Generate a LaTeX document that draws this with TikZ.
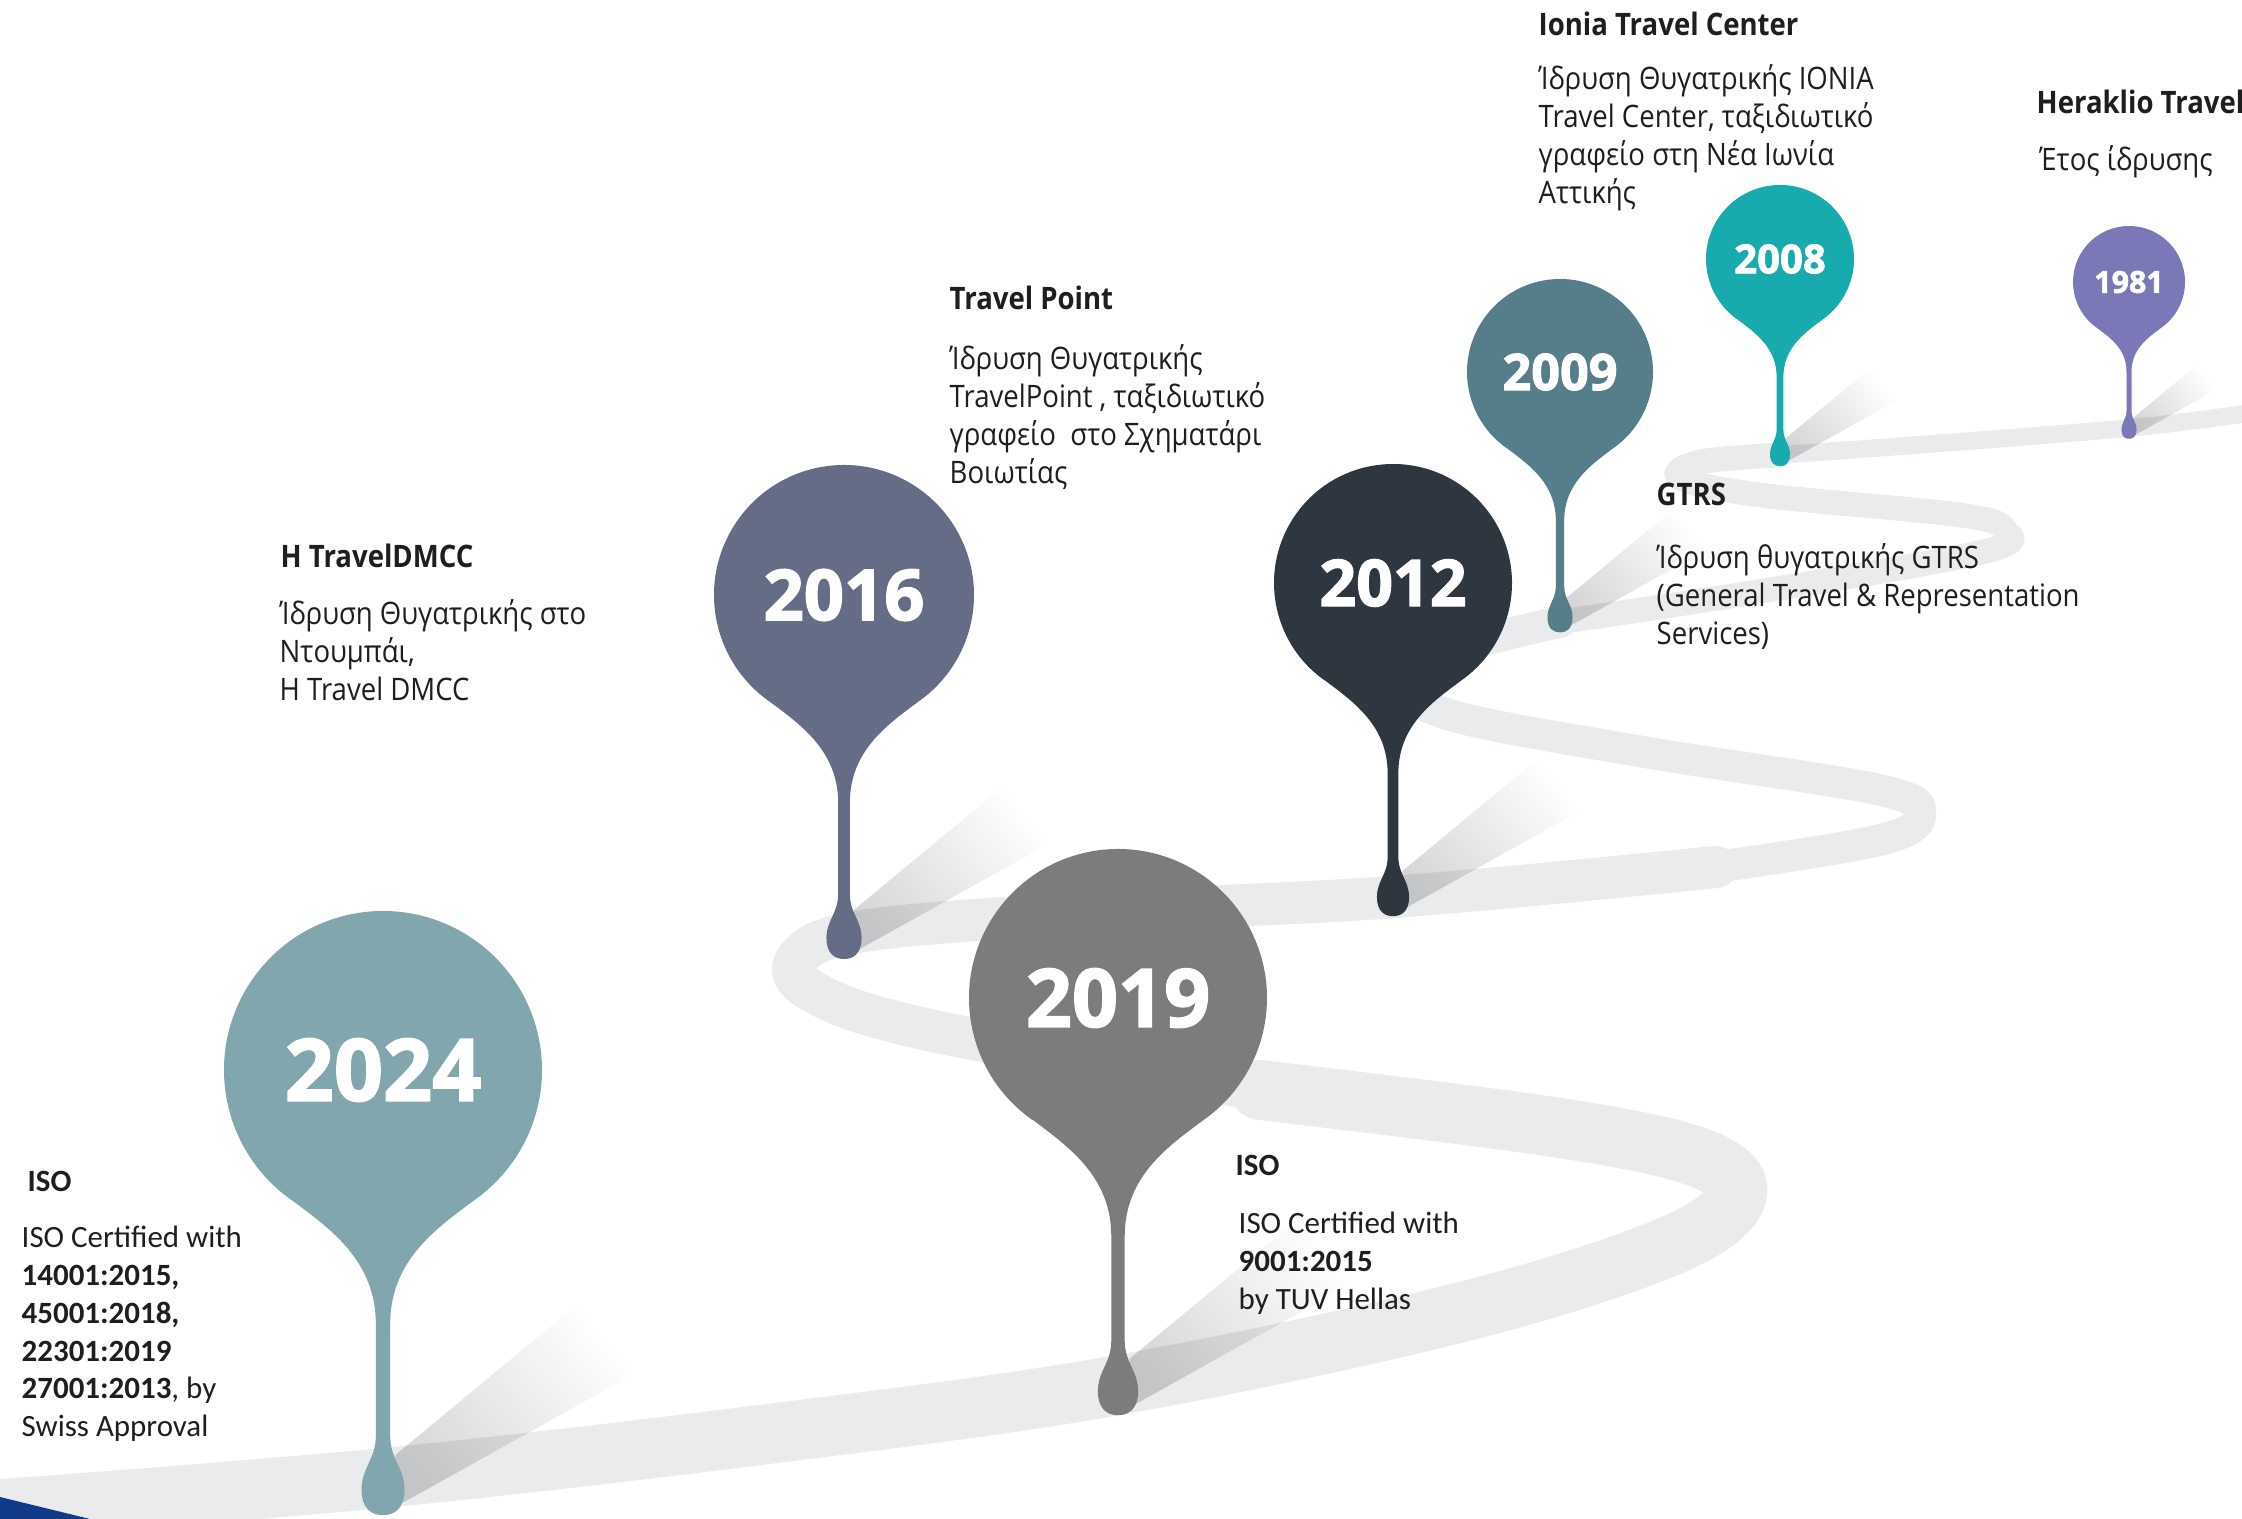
\documentclass[tikz,border=0pt]{standalone}
\usepackage{fontspec}
\setmainfont[FakeStretch=0.89]{Open Sans}
\newfontfamily\calfont{Carlito}
\newfontfamily\yearfont[BoldFeatures={FakeBold=2}]{Open Sans}
\usetikzlibrary{fadings}

\definecolor{roadgray}{RGB}{234,235,237}
\definecolor{cornerblue}{RGB}{16,58,135}
\definecolor{pinA}{RGB}{130,166,173}% 2024
\definecolor{pinB}{RGB}{124,124,124}% 2019
\definecolor{pinC}{RGB}{100,108,134}% 2016
\definecolor{pinD}{RGB}{46,54,64}%    2012
\definecolor{pinE}{RGB}{85,125,138}%  2009
\definecolor{pinF}{RGB}{23,171,173}%  2008
\definecolor{pinG}{RGB}{123,120,184}% 1981
\definecolor{txt}{RGB}{30,30,30}

% pin: name, x, y, radius, colour, year
\newcommand\pin[6]{%
  \begin{scope}[shift={(#2,#3)},scale=#4]
    % shadow
    \fill[black,opacity=.16,path fading=east,fading angle=35]
      (0.02,2.78) -- (0.08,2.42) -- (1.25,1.45) -- (1.6,1.9) -- cycle;
    % body of the pin
    \fill[#5] (125:1) arc (125:415:1)
      .. controls (0.33,1.0) and (0.045,1.2) .. (0.045,1.6)
      -- (0.045,2.3) .. controls (0.045,2.45) and (0.135,2.5) .. (0.135,2.64)
      .. controls (0.135,2.76) and (0.07,2.8) .. (0,2.8)
      .. controls (-0.07,2.8) and (-0.135,2.76) .. (-0.135,2.64)
      .. controls (-0.135,2.5) and (-0.045,2.45) .. (-0.045,2.3)
      -- (-0.045,1.6) .. controls (-0.045,1.2) and (-0.33,1.0) .. cycle;
  \end{scope}
  \pgfmathsetmacro\yearsize{0.154*#4}
  \node[year] (#1) at (#2,#3) {\fontsize{\yearsize pt}{\yearsize pt}\selectfont #6};
}

\tikzset{
  road/.style={roadgray,line cap=round,line join=round},
  year/.style={text=white,font=\yearfont\bfseries,inner sep=0pt},
  head/.style={anchor=base west,inner sep=0pt,text=txt,font=\bfseries\fontsize{8.8}{10.8}\selectfont},
  body/.style={anchor=north west,yshift=8pt,inner sep=0pt,text=txt,align=left,
    execute at begin node=\rule{0pt}{8pt},font=\fontsize{8.8}{10.8}\selectfont},
  calhead/.style={head,font=\calfont\bfseries\fontsize{8.8}{10.8}\selectfont},
  calbody/.style={body,font=\calfont\fontsize{8.8}{10.8}\selectfont},
}

\begin{document}
\begin{tikzpicture}[x=0.01cm,y=-0.01cm]
  \useasboundingbox (0,0) rectangle (2242,1519);
  \fill[white] (0,0) rectangle (2242,1519);

  % the road
  \draw[road,line width=17pt] plot[smooth,tension=0.6] coordinates
    {(-40,1512) (383,1478) (800,1430) (1118,1385) (1450,1315) (1660,1250)
     (1735,1200) (1705,1160) (1560,1128) (1260,1090)};
  \draw[road,line width=12pt] plot[smooth,tension=0.6] coordinates
    {(1260,1090) (929,1030) (810,990) (800,955) (870,930) (1100,912)
     (1393,897) (1716,867)};
  \draw[road,line width=9pt] plot[smooth,tension=0.6] coordinates
    {(1716,867) (1880,840) (1920,815) (1880,790) (1644,752) (1450,715)
     (1405,680) (1450,650) (1560,622)};
  \draw[road,line width=7pt] plot[smooth,tension=0.6] coordinates
    {(1560,622) (1800,585) (1990,550) (2005,530) (1960,515) (1760,495)
     (1680,478) (1700,462) (1780,455)};
  \draw[road,line width=5pt] plot[smooth,tension=0.6] coordinates
    {(1780,455) (2129,428) (2300,405)};

  % corner
  \fill[cornerblue] (0,1497) -- (90,1519) -- (0,1519) -- cycle;

  % pins, far to near
  \pin{y1981}{2129}{282}{56}{pinG}{1981}
  \pin{y2008}{1780}{259}{74}{pinF}{2008}
  \pin{y2009}{1560}{372}{93}{pinE}{2009}
  \pin{y2012}{1393}{583}{119}{pinD}{2012}
  \pin{y2016}{844}{595}{130}{pinC}{2016}
  \pin{y2019}{1118}{998}{149}{pinB}{2019}
  \pin{y2024}{383}{1070}{159}{pinA}{2024}

  % texts
  \node[calhead] (isoAhead) at (27,1191) {ISO};
  \node[calbody] (isoAtext) at (21,1253) {ISO Certified with\\
    \textbf{14001:2015,}\\ \textbf{45001:2018,}\\ \textbf{22301:2019}\\
    \textbf{27001:2013}, by\\ Swiss Approval};

  \node[calhead] (isoBhead) at (1235,1175) {ISO};
  \node[calbody] (isoBtext) at (1238,1239) {ISO Certified with\\
    \textbf{9001:2015}\\ by TUV Hellas};

  \node[head] (dmcchead) at (280,568) {H TravelDMCC};
  \node[body] (dmcctext) at (279,627) {Ίδρυση Θυγατρικής στο\\
    Ντουμπάι,\\ H Travel DMCC};

  \node[head] (tphead) at (949,310) {Travel Point};
  \node[body] (tptext) at (949,372) {Ίδρυση Θυγατρικής\\
    TravelPoint , ταξιδιωτικό\\ γραφείο \ στο Σχηματάρι\\ Βοιωτίας};

  \node[head] (ioniahead) at (1538,36) {Ionia Travel Center};
  \node[body] (ioniatext) at (1538,92) {Ίδρυση Θυγατρικής IONIA\\
    Travel Center, ταξιδιωτικό\\ γραφείο στη Νέα Ιωνία\\ Αττικής};

  \node[head] (herhead) at (2036,114) {Heraklio Travel};
  \node[body] (hertext) at (2039,170) {Έτος ίδρυσης};

  \node[head] (gtrshead) at (1656,506) {GTRS};
  \node[body] (gtrstext) at (1656,571) {Ίδρυση θυγατρικής GTRS\\
    (General Travel \& Representation\\ Services)};
\end{tikzpicture}
\end{document}
